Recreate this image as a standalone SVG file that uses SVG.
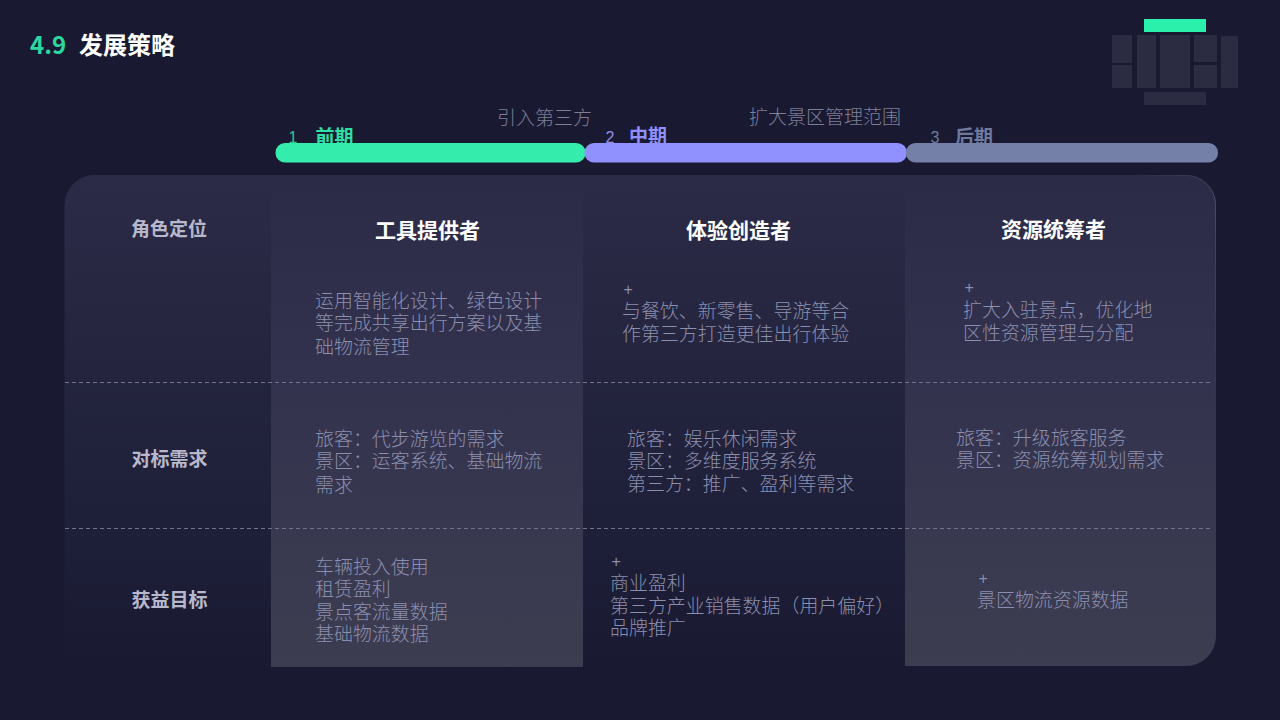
<svg xmlns="http://www.w3.org/2000/svg" width="1280" height="720" viewBox="0 0 1280 720">
<style>
text{font-family:"Noto Sans CJK SC","Noto Sans",sans-serif}
.b{font-weight:700}
.t{font-size:18.950px;fill:#8b8eae;font-weight:300}
.top{font-size:19px;fill:#7e7e98;font-weight:300}
.plus{font-size:16px;fill:#8b8eae;font-family:"Liberation Sans",sans-serif}
.row{font-size:19px;font-weight:700;fill:#b8b8cc;text-anchor:middle}
.head{font-size:21px;font-weight:700;fill:#fff;text-anchor:middle}
.num{font-size:16px;font-family:"Liberation Sans",sans-serif}
.ph{font-size:19px;font-weight:700}
.ic{fill:#2b2b42}
.div{stroke:#72728c;stroke-width:1;stroke-dasharray:4 3}
</style>
<defs>
<linearGradient id="g1" x1="0" y1="0" x2="0" y2="1"><stop offset="0" stop-color="#2b2b47"/><stop offset="1" stop-color="#2b2b47" stop-opacity="0"/></linearGradient>
<linearGradient id="g2" x1="0" y1="0" x2="0" y2="1"><stop offset="0" stop-color="#2b2b47"/><stop offset="0.4" stop-color="#32324e"/><stop offset="1" stop-color="#3d3d51"/></linearGradient>
<linearGradient id="g3" gradientUnits="userSpaceOnUse" x1="1130" y1="175" x2="1216" y2="420"><stop offset="0" stop-color="#4a4a66" stop-opacity="0"/><stop offset="0.2" stop-color="#4a4a66"/><stop offset="1" stop-color="#3d3d51" stop-opacity="0"/></linearGradient>
</defs>
<rect width="1280" height="720" fill="#191a32"/>
<g id="title"><text x="30" y="54" font-size="24" class="b" fill="#2ad8a0" font-family="Noto Sans">4.9</text><text x="79" y="54" font-size="24" class="b" fill="#fff">发展策略</text></g>
<g id="logo">
<rect x="1144" y="19" width="62" height="13" fill="#2bf0ac"/>
<rect class="ic" x="1112" y="35" width="20" height="28"/><rect class="ic" x="1112" y="65" width="20" height="23"/>
<rect class="ic" x="1137" y="35" width="19" height="53"/><rect class="ic" x="1160" y="35" width="30" height="53"/>
<rect class="ic" x="1194" y="35" width="23" height="27"/><rect class="ic" x="1194" y="65" width="23" height="23"/>
<rect class="ic" x="1221" y="36" width="17" height="52"/><rect class="ic" x="1144" y="92" width="62" height="13"/>
</g>
<g id="phase-labels">
<text class="num" x="288.500" y="143" fill="#2fc795">1</text><text class="ph" x="315.500" y="143.500" fill="#2fe0a5">前期</text>
<text class="num" x="605.500" y="143" fill="#8f8fe8">2</text><text class="ph" x="629" y="142.500" fill="#9090ff">中期</text>
<text class="num" x="930.500" y="143" fill="#6f7a9f">3</text><text class="ph" x="955" y="143.500" fill="#6f7a9f">后期</text>
<text class="top" x="497" y="125">引入第三方</text>
<text class="top" x="749" y="124">扩大景区管理范围</text>
</g>
<g id="timeline">
<rect x="275.500" y="143" width="310" height="19.500" rx="9.500" fill="#34ecab"/>
<rect x="584.500" y="143" width="322.500" height="19.500" rx="9.500" fill="#9090ff"/>
<rect x="906" y="143" width="312" height="19.500" rx="9.500" fill="#7480a8"/>
</g>
<g id="table">
<path d="M64.500 666V205a30 30 0 0 1 30-30H1186a30 30 0 0 1 30 30V636a30 30 0 0 1-30 30Z" fill="url(#g1)"/>
<rect x="271" y="175" width="312" height="492" fill="url(#g2)"/>
<path d="M905 175H1186a30 30 0 0 1 30 30V636a30 30 0 0 1-30 30H905Z" fill="url(#g2)"/>
<path d="M1130 175.500H1186a29.500 29.500 0 0 1 29.500 29.500V420" fill="none" stroke="url(#g3)"/>
</g>
<g id="connectors">
<line class="div" x1="65" y1="382.500" x2="1212" y2="382.500"/>
<line class="div" x1="65" y1="528.500" x2="1212" y2="528.500"/>
</g>
<g id="row-labels">
<text class="row" x="169" y="236">角色定位</text>
<text class="row" x="169.500" y="466">对标需求</text>
<text class="row" x="169.500" y="607">获益目标</text>
</g>
<g id="heads">
<text class="head" x="427.500" y="238">工具提供者</text>
<text class="head" x="738.500" y="238">体验创造者</text>
<text class="head" x="1053.500" y="237">资源统筹者</text>
</g>
<g id="col1">
<text class="t" x="315" y="308">运用智能化设计、绿色设计</text>
<text class="t" x="315" y="330">等完成共享出行方案以及基</text>
<text class="t" x="315" y="354">础物流管理</text>
<text class="t" x="315" y="446">旅客：代步游览的需求</text>
<text class="t" x="315" y="468">景区：运客系统、基础物流</text>
<text class="t" x="315" y="492">需求</text>
<text class="t" x="315" y="574">车辆投入使用</text>
<text class="t" x="315" y="596">租赁盈利</text>
<text class="t" x="315" y="619">景点客流量数据</text>
<text class="t" x="315" y="641">基础物流数据</text>
</g>
<g id="col2">
<text class="plus" x="623.500" y="295">+</text>
<text class="t" x="622" y="318">与餐饮、新零售、导游等合</text>
<text class="t" x="622" y="341">作第三方打造更佳出行体验</text>
<text class="t" x="627" y="446">旅客：娱乐休闲需求</text>
<text class="t" x="627" y="468">景区：多维度服务系统</text>
<text class="t" x="627" y="491">第三方：推广、盈利等需求</text>
<text class="plus" x="611.500" y="567">+</text>
<text class="t" x="610" y="590">商业盈利</text>
<text class="t" x="610" y="613">第三方产业销售数据（用户偏好）</text>
<text class="t" x="610" y="635">品牌推广</text>
</g>
<g id="col3">
<text class="plus" x="964.500" y="293">+</text>
<text class="t" x="963" y="317">扩大入驻景点，优化地</text>
<text class="t" x="963" y="340">区性资源管理与分配</text>
<text class="t" x="956" y="445">旅客：升级旅客服务</text>
<text class="t" x="956" y="467">景区：资源统筹规划需求</text>
<text class="plus" x="978.500" y="584">+</text>
<text class="t" x="977" y="607">景区物流资源数据</text>
</g>
</svg>
